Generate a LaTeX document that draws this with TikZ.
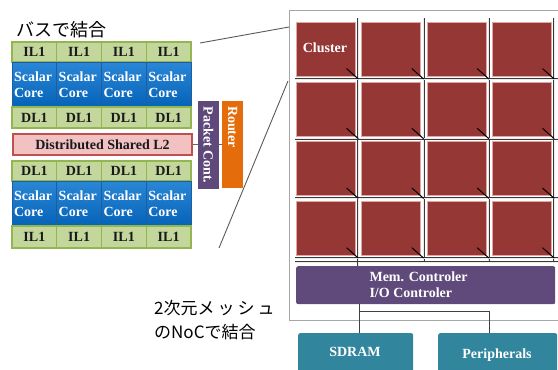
\documentclass[tikz,border=0pt]{standalone}
\usepackage{fontspec}
\usetikzlibrary{calc}
\setmainfont{Liberation Serif}
\newfontfamily\jp{Noto Sans CJK JP}
\definecolor{cachefill}{HTML}{C3D69B}
\definecolor{cacheline}{HTML}{93B650}
\definecolor{coretop}{HTML}{2A86D6}
\definecolor{corebot}{HTML}{0563B8}
\definecolor{coreline}{HTML}{1E5E9E}
\definecolor{ltwofill}{HTML}{F2C2C2}
\definecolor{ltwoline}{HTML}{C0504D}
\definecolor{pktcol}{HTML}{5F497A}
\definecolor{routcol}{HTML}{E46C0A}
\definecolor{tilecol}{HTML}{953735}
\definecolor{tileline}{HTML}{E3A5A4}
\definecolor{memcol}{HTML}{604A7B}
\definecolor{tealcol}{HTML}{31859C}
\begin{document}
\begin{tikzpicture}[x=1pt,y=-1pt,
  bf/.style={font=\fontsize{14}{16}\selectfont\bfseries},
  cache/.style={bf, draw=cacheline, fill=cachefill, line width=1.1pt, minimum width=44.75pt, inner sep=0pt, text=black!90},
  core/.style={bf, draw=coreline, top color=coretop, bottom color=corebot, line width=0.8pt, text width=40.75pt, inner xsep=2pt, inner ysep=0pt, minimum height=45pt, align=left, text=white},
  tile/.style={draw=tileline, fill=tilecol, line width=0.6pt, minimum width=59pt, minimum height=54pt, anchor=north west, inner sep=0pt},
  rail/.style={draw=gray!45!black, double=gray!15, double distance=0.9pt, line width=0.5pt},
  conn/.style={draw=black!75, line width=0.9pt},
  diag/.style={draw=black, line width=1pt},
  wtext/.style={bf, text=white}
]
\useasboundingbox (0,0) rectangle (558,370);
% Japanese labels
\node[font=\jp\fontsize{18}{18}\selectfont, anchor=west, inner sep=0pt] (bus) at (16,30) {バスで結合};
\node[font=\jp\fontsize{17}{24}\selectfont, anchor=north west, align=left, inner sep=0pt] (noc) at (154,300) {2次元メ\hspace{3pt}ッ\hspace{3pt}シ\hspace{3pt}ュ\\のNoCで結合};
% cluster halves
\foreach \i in {0,...,3} {
  \pgfmathsetmacro\xc{12+44.75*(\i+0.5)}
  \node[cache, minimum height=20pt] (ia\i) at (\xc,52) {IL1};
  \node[core] (ca\i) at (\xc,84.5) {Scalar\\Core};
  \node[cache, minimum height=21pt] (da\i) at (\xc,117.5) {DL1};
  \node[cache, minimum height=20pt] (db\i) at (\xc,171) {DL1};
  \node[core] (cb\i) at (\xc,203.5) {Scalar\\Core};
  \node[cache, minimum height=22pt] (ib\i) at (\xc,237) {IL1};
}
\node[bf, draw=ltwoline, fill=ltwofill, line width=1.1pt, minimum width=179pt, minimum height=21pt, inner sep=0pt, text=black!90] (ltwo) at (102.5,144.5) {Distributed Shared L2};
\node[fill=pktcol, minimum width=21pt, minimum height=88pt, inner sep=0pt] (pkt) at (208.5,145) {};
\node[wtext, rotate=-90, inner sep=0pt] (pkttxt) at (pkt.center) {Packet Cont.};
\node[fill=routcol, minimum width=21pt, minimum height=87pt, inner sep=0pt] (rout) at (232.5,144.5) {};
\node[wtext, rotate=-90] (routtxt) at (232.5,127) {Router};
\draw[conn, draw=black!60] (ltwo.east) -- (ltwo.east -| pkt.west);
\draw[conn, draw=black!60] (pkt.east |- ltwo.east) -- (rout.west |- ltwo.east);
% zoom lines
\coordinate (za) at (200,43);
\coordinate (zb) at (289,27);
\coordinate (zc) at (219,248);
\coordinate (zd) at (288,81);
\draw[draw=black!65, line width=0.9pt] (za) -- (zb);
\draw[draw=black!65, line width=0.9pt] (zc) -- (zd);
% outer chip frame
\draw[draw=gray!70, line width=1pt] (560,10) -- (289,10) -- (289,320) -- (560,320);
% tiles
\foreach \i in {0,...,3} {
  \foreach \j in {0,...,3} {
    \pgfmathsetmacro\xl{296+65.3*\i}
    \pgfmathsetmacro\yt{22+59.7*\j}
    \node[tile] (t\i\j) at (\xl,\yt) {};
  }
}
\node[wtext, anchor=center] (cl) at (325,48) {Cluster};
% rails
\foreach \i in {0,...,3} {
  \pgfmathsetmacro\xv{296+65.3*\i+62.3}
  \draw[rail] (\xv,18) -- (\xv,262);
}
\foreach \j in {0,...,3} {
  \pgfmathsetmacro\yh{22+59.7*\j+57}
  \draw[rail] (295,\yh) -- (560,\yh);
}
\draw[rail] (295,262) -- (560,262);
% diagonal taps
\foreach \i in {0,...,3} {
  \foreach \j in {0,...,3} {
    \pgfmathsetmacro\xv{296+65.3*\i+62.3}
    \pgfmathsetmacro\yh{22+59.7*\j+57}
    \draw[diag] ($(t\i\j.south east)+(-9,-8)$) -- (\xv,\yh);
  }
}
% memory / IO controller
\node[fill=memcol, rounded corners=2pt, minimum width=259pt, minimum height=38pt, anchor=north west, inner sep=0pt] (mem) at (296,266) {};
\node[wtext, align=left, anchor=west] (memtxt) at (366,285) {Mem. Controler\\I/O Controler};
\draw[rail] (358.3,262) -- (mem.north -| 358.3,0);
\node[fill=tealcol, rounded corners=2pt, minimum width=115pt, minimum height=50pt, anchor=north west, inner sep=0pt] (sdram) at (298,333) {};
\node[wtext] (sdtxt) at (355,352) {SDRAM};
\node[fill=tealcol, rounded corners=2pt, minimum width=119pt, minimum height=50pt, anchor=north west, inner sep=0pt] (peri) at (438,333) {};
\node[wtext] (pertxt) at (497,355) {Peripherals};
\coordinate (j1) at (359,311);
\coordinate (j2) at (489,311);
\draw[conn] (mem.south -| j1) -- (sdram.north -| j1);
\draw[conn] (j1) -- (j2) -- (peri.north -| j2);
\end{tikzpicture}
\end{document}
